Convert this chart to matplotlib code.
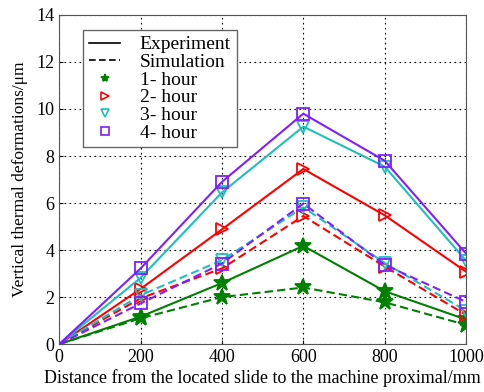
import numpy as np
import matplotlib.pyplot as plt
from matplotlib.lines import Line2D

plt.rcParams['font.family'] = ['Liberation Serif', 'DejaVu Serif']

distance = [0, 200, 400, 600, 800, 1000]

# measured deformation, um
exp_1h = [0, 1.17, 2.6, 4.18, 2.25, 1.05]
exp_2h = [0, 2.35, 4.88, 7.45, 5.48, 3.08]
exp_3h = [0, 2.82, 6.45, 9.25, 7.55, 3.55]
exp_4h = [0, 3.22, 6.9, 9.8, 7.8, 3.85]

# simulated deformation, um
sim_1h = [0, 1.1, 2.0, 2.41, 1.78, 0.82]
sim_2h = [0, 1.95, 3.22, 5.45, 3.3, 1.25]
sim_3h = [0, 2.08, 3.57, 5.82, 3.45, 1.42]
sim_4h = [0, 1.73, 3.43, 5.98, 3.37, 1.8]

hour_labels = ['1- hour', '2- hour', '3- hour', '4- hour']
colors = ['#008000', '#ff0000', '#1fbfbf', '#7f1fff']
markers = ['*', '>', 'v', 's']

fig = plt.figure(figsize=(4.85, 3.92), dpi=100)
ax = fig.add_axes([0.122, 0.122, 0.839, 0.84])

exps = [exp_1h, exp_2h, exp_3h, exp_4h]
sims = [sim_1h, sim_2h, sim_3h, sim_4h]
for i in range(4):
    filled = colors[i] if markers[i] == '*' else 'none'
    ms = 12 if markers[i] == '*' else 8.5
    # no marker at the origin
    ax.plot(distance, exps[i], color=colors[i], lw=1.5, marker=markers[i],
            ms=ms, mfc=filled, mew=1.3, markevery=slice(1, None))
    ax.plot(distance, sims[i], color=colors[i], lw=1.5, ls='--', dashes=(4, 2),
            marker=markers[i], ms=ms, mfc=filled, mew=1.3, markevery=slice(1, None))

ax.set_xlim(0, 1000)
ax.set_ylim(0, 14)
ax.set_xticks(distance)
ax.set_yticks(np.arange(0, 15, 2))
ax.grid(True, color='black', ls=(0, (1.5, 3)), lw=0.8)
ax.tick_params(direction='in', labelsize=13, length=3)
for s in ax.spines.values():
    s.set_color('#555555')
ax.set_xlabel('Distance from the located slide to the machine proximal/mm', fontsize=13, labelpad=2)
ax.set_ylabel('Vertical thermal deformations/μm', fontsize=12.5)
ax.yaxis.set_label_coords(-0.077, 0.5)

handles = [Line2D([], [], color='black', lw=1.2),
           Line2D([], [], color='black', lw=1.2, ls='--', dashes=(4, 2))]
for i in range(4):
    filled = colors[i] if markers[i] == '*' else 'none'
    handles.append(Line2D([], [], ls='none', marker=markers[i], color=colors[i],
                          mfc=filled, ms=6, mew=1.2))
labels = ['Experiment', 'Simulation'] + hour_labels
leg = ax.legend(handles, labels, loc='upper left', bbox_to_anchor=(0.059, 0.954),
                borderaxespad=0, fontsize=14, fancybox=False, edgecolor='#666666',
                framealpha=1, handlelength=1.6, labelspacing=0.0, borderpad=0.3,
                handletextpad=1.0)
leg.get_frame().set_linewidth(1.0)

fig.savefig('out.png', dpi=100)
